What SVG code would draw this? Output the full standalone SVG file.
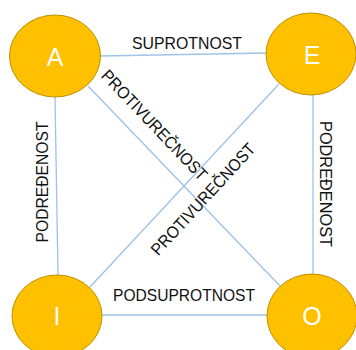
<svg xmlns="http://www.w3.org/2000/svg" width="356" height="350" viewBox="0 0 356 350">
<style>
.edge{stroke:#9DC3E6;stroke-width:1.3;fill:none}
.node ellipse{fill:#FFC000;stroke:#BF9000;stroke-width:1}
.node text{fill:#FFFFFF;font-family:"Liberation Sans",Arial,sans-serif;font-size:25px;text-anchor:middle}
.lbl{fill:#111111;font-family:"Liberation Sans",Arial,sans-serif;font-size:17px;text-anchor:middle}
</style>
<rect width="356" height="350" fill="#FFFFFF"/>
<g id="connectors">
<line class="edge" x1="100" y1="56" x2="267" y2="53"/>
<line class="edge" x1="55" y1="96" x2="58" y2="275"/>
<line class="edge" x1="313" y1="94" x2="313" y2="275"/>
<line class="edge" x1="102" y1="315" x2="268" y2="315"/>
<line class="edge" x1="88" y1="86" x2="280" y2="286"/>
<line class="edge" x1="279" y1="84" x2="90" y2="287"/>
<text class="lbl" x="187" y="49" textLength="110" lengthAdjust="spacingAndGlyphs">SUPROTNOST</text>
<text class="lbl" x="184" y="301" textLength="142" lengthAdjust="spacingAndGlyphs">PODSUPROTNOST</text>
<text class="lbl" transform="translate(42,182) rotate(-90)" x="0" y="6" textLength="121" lengthAdjust="spacingAndGlyphs">PODREĐENOST</text>
<text class="lbl" transform="translate(326,184) rotate(90)" x="0" y="6" textLength="126" lengthAdjust="spacingAndGlyphs">PODREĐENOST</text>
<text class="lbl" transform="translate(154.5,125) rotate(46.5)" x="0" y="6" textLength="145" lengthAdjust="spacingAndGlyphs">PROTIVUREČNOST</text>
<text class="lbl" transform="translate(203,199) rotate(-47.4)" x="0" y="6" textLength="145" lengthAdjust="spacingAndGlyphs">PROTIVUREČNOST</text>
</g>
<g id="node-A" class="node"><ellipse cx="55" cy="56" rx="45.5" ry="41"/><text x="55" y="66">A</text></g>
<g id="node-E" class="node"><ellipse cx="311" cy="54" rx="45" ry="41"/><text x="312" y="64">E</text></g>
<g id="node-I" class="node"><ellipse cx="57" cy="316" rx="45" ry="41"/><text x="57" y="325">I</text></g>
<g id="node-O" class="node"><ellipse cx="312" cy="316" rx="45" ry="42"/><text x="312" y="325">O</text></g>
</svg>
